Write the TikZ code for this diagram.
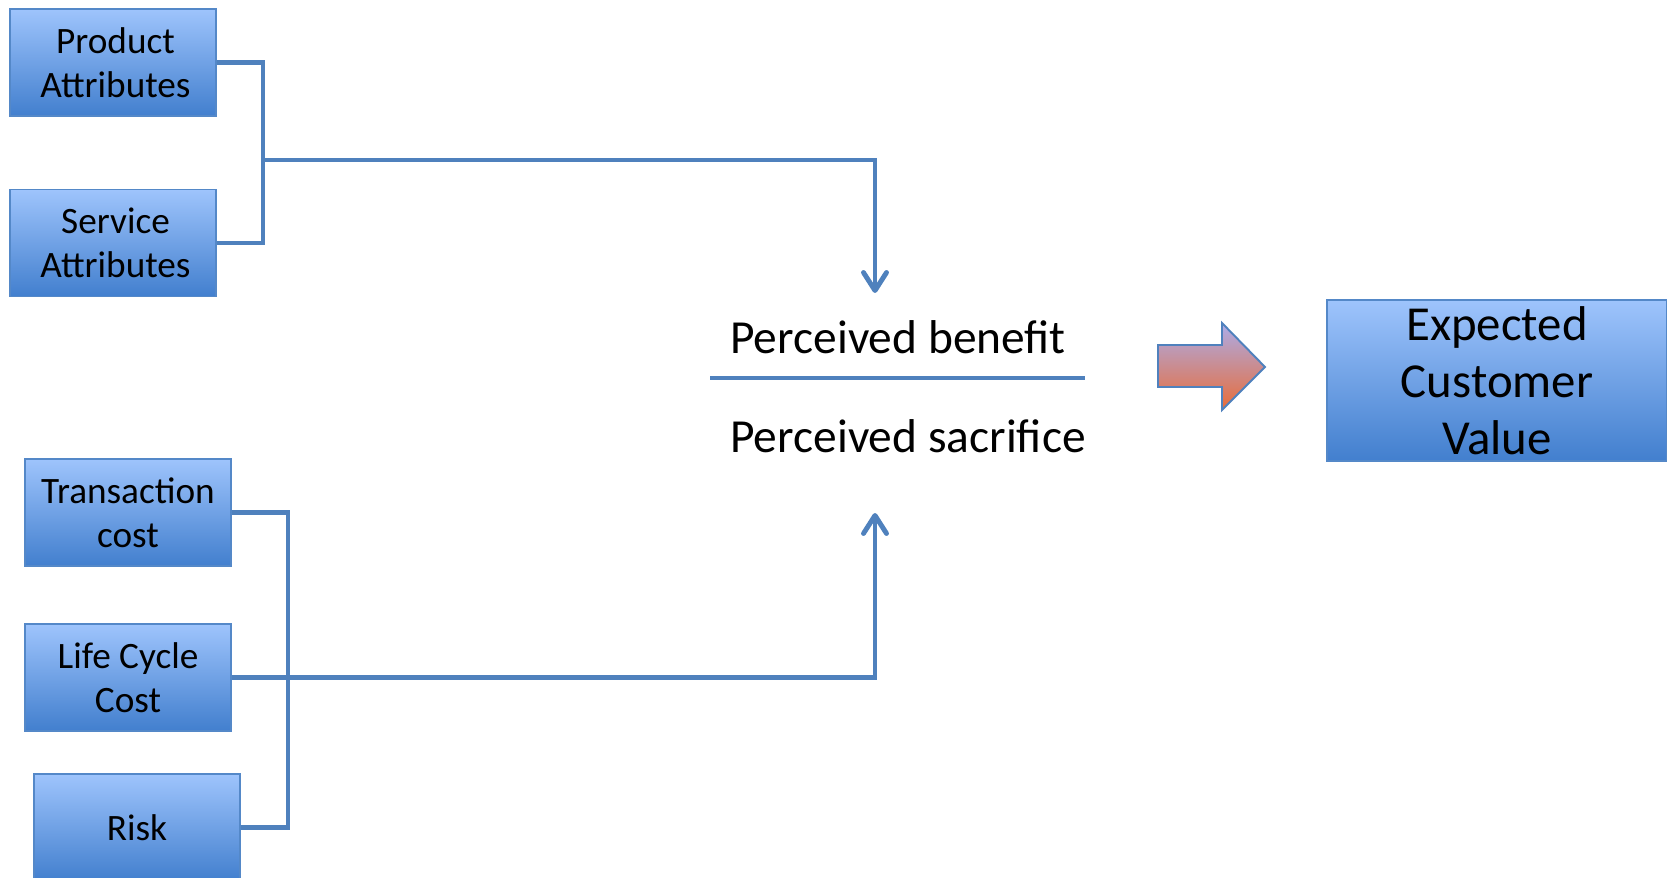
\documentclass[tikz,border=0pt]{standalone}
\usepackage{fontspec}
\setmainfont{Carlito}
\usetikzlibrary{arrows.meta}

\definecolor{boxTop}{RGB}{158,196,252}
\definecolor{boxBot}{RGB}{66,127,206}
\definecolor{boxEdge}{RGB}{84,136,200}
\definecolor{linkBlue}{RGB}{79,129,189}
\definecolor{arrTop}{RGB}{172,172,232}
\definecolor{arrBot}{RGB}{232,108,56}

\tikzset{
  box/.style={draw=boxEdge, line width=1.1pt, top color=boxTop, bottom color=boxBot,
    minimum width=4.12cm, minimum height=2.14cm, inner sep=0pt, align=center,
    font=\fontsize{21.2}{24.8}\selectfont},
  link/.style={draw=linkBlue, line width=2.8pt},
  tip/.style={-{Straight Barb[length=0.36cm, width=0.46cm, line cap=round, line join=round]}},
  ratio/.style={anchor=base west, inner sep=0pt, font=\fontsize{27}{30}\selectfont}
}

\begin{document}
\begin{tikzpicture}[x=0.02cm, y=-0.02cm]
\useasboundingbox (0,0) rectangle (1667,878);

% benefit side
\node[box] (prod) at (113,62.5) {\hspace*{0.1cm}Product\\\hspace*{0.1cm}Attributes};
\node[box] (serv) at (113,243) {\hspace*{0.1cm}Service\\\hspace*{0.1cm}Attributes};

% sacrifice side
\node[box] (trans) at (128,512.5) {Transaction\\cost};
\node[box] (life) at (128,677.5) {Life Cycle\\Cost};
\node[box] (risk) at (137,827.5) {Risk};

% the ratio
\node[ratio] (ben) at (730,354) {Perceived benefit};
\node[ratio] (sac) at (730,453) {Perceived sacrifice};
\coordinate (barL) at (710,378);
\coordinate (barR) at (1085,378);
\draw[link, line width=2.6pt] (barL) -- (barR);

% result
\node[box, minimum width=6.8cm, minimum height=3.22cm, font=\fontsize{27.8}{32.4}\selectfont]
  (value) at (1497,380.5) {Expected\\Customer\\Value};
\draw[draw=linkBlue, line width=1.1pt, top color=arrTop, bottom color=arrBot, line join=miter]
  (1158,345) -- (1222,345) -- (1222,323) -- (1265,367) -- (1222,410) -- (1222,387)
  -- (1158,387) -- cycle;

% connectors
\coordinate (jA) at (263,160);
\coordinate (benTip) at (875,293);
\coordinate (jB) at (288,679);
\coordinate (sacTip) at (875,513);
\draw[link] (prod.east) -| (jA) |- (serv.east);
\draw[link, tip] (jA) -| (benTip);
\draw[link] (trans.east) -| (jB) |- (risk.east);
\draw[link, tip] (life.east) -| (sacTip);
\end{tikzpicture}
\end{document}
